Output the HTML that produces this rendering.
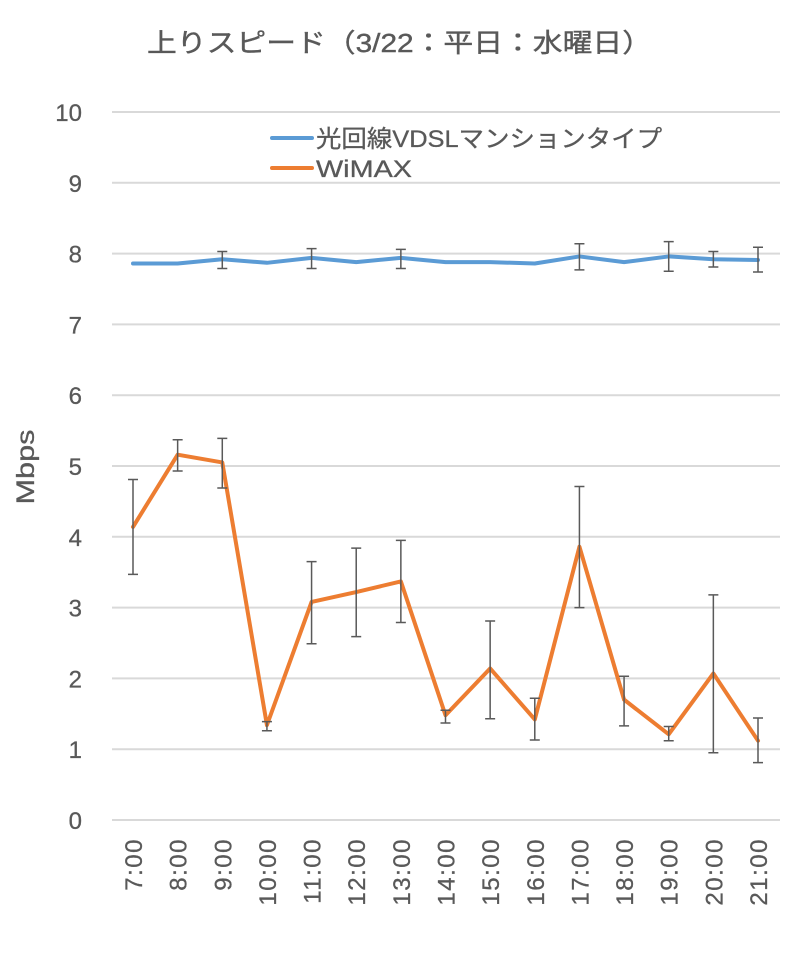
<!DOCTYPE html>
<html><head><meta charset="utf-8"><style>
html,body{margin:0;padding:0;background:#fff;}
svg{display:block;font-family:"Liberation Sans","Noto Sans CJK JP",sans-serif;}
</style></head><body>
<svg id="chart" width="804" height="954" viewBox="0 0 804 954" xmlns="http://www.w3.org/2000/svg">
<rect x="0" y="0" width="804" height="954" fill="#fff"/>
<text x="147" y="52" textLength="505" lengthAdjust="spacingAndGlyphs" font-size="26" fill="#595959" stroke="#595959" stroke-width="0.4">上りスピード（3/22：平日：水曜日）</text>
<text transform="translate(34,467) rotate(-90)" text-anchor="middle" textLength="75" lengthAdjust="spacingAndGlyphs" font-size="25" fill="#595959" stroke="#595959" stroke-width="0.3">Mbps</text>
<g id="grid"></g>
<g id="ylabels"></g>
<g id="xlabels"></g>
<g id="series"></g>
<g>
<line x1="272" y1="138" x2="312" y2="138" stroke="#5B9BD5" stroke-width="4" stroke-linecap="round"/>
<text x="316" y="147" textLength="346" lengthAdjust="spacingAndGlyphs" font-size="24" fill="#595959" stroke="#595959" stroke-width="0.3">光回線VDSLマンションタイプ</text>
<line x1="272" y1="168" x2="312" y2="168" stroke="#ED7D31" stroke-width="4" stroke-linecap="round"/>
<text x="316" y="177" textLength="96" lengthAdjust="spacingAndGlyphs" font-size="24" fill="#595959" stroke="#595959" stroke-width="0.3">WiMAX</text>
</g>
</svg>
<script>
const categories = ["7:00","8:00","9:00","10:00","11:00","12:00","13:00","14:00","15:00","16:00","17:00","18:00","19:00","20:00","21:00"];
const yTicks = [0,1,2,3,4,5,6,7,8,9,10];
const vdslValues = [7.86,7.86,7.92,7.87,7.94,7.88,7.94,7.88,7.88,7.86,7.96,7.88,7.96,7.92,7.91];
const vdslHigh = [null,null,8.03,null,8.07,null,8.06,null,null,null,8.14,null,8.17,8.03,8.09];
const vdslLow  = [null,null,7.79,null,7.79,null,7.79,null,null,null,7.77,null,7.75,7.81,7.74];
const wimaxValues = [4.14,5.16,5.05,1.34,3.08,3.22,3.37,1.48,2.14,1.42,3.86,1.70,1.21,2.07,1.12];
const wimaxHigh = [4.81,5.37,5.39,1.39,3.65,3.84,3.95,1.55,2.81,1.72,4.71,2.03,1.32,3.18,1.44];
const wimaxLow  = [3.47,4.93,4.69,1.26,2.49,2.59,2.79,1.37,1.43,1.13,3.00,1.33,1.12,0.95,0.81];

const NS = "http://www.w3.org/2000/svg";
const plotL = 112, plotR = 780, y0 = 820, yTop = 112;
function xScale(i){ return 133 + i * (758 - 133) / (categories.length - 1); }
function yScale(v){ return y0 - (v / 10) * (y0 - yTop); }
function mk(tag, attrs, parent){ const e = document.createElementNS(NS, tag); for (const k in attrs) e.setAttribute(k, attrs[k]); parent.appendChild(e); return e; }

const grid = document.getElementById('grid');
const yl = document.getElementById('ylabels');
yTicks.forEach(t => {
  const g = mk('line', {x1: plotL, x2: plotR, y1: yScale(t), y2: yScale(t), stroke: '#d9d9d9', 'stroke-width': 2}, grid);
  
  
  const l = mk('text', {x: 82, y: yScale(t) + 9, 'text-anchor': 'end', 'font-size': 24, fill: '#595959', stroke: '#595959', 'stroke-width': 0.3}, yl);
  l.textContent = t;
  
  
});
const xl = document.getElementById('xlabels');
categories.forEach((c, i) => {
  const x = xScale(i);
  const t = mk('text', {transform: 'translate(' + (x + 9) + ',838) rotate(-90)', 'text-anchor': 'end', 'font-size': 24, 'letter-spacing': 1.5, fill: '#595959', stroke: '#595959', 'stroke-width': 0.3}, xl);
  t.textContent = c;
  
  
});
const ser = document.getElementById('series');
function drawSeries(vals, hi, lo, color, name){
  const g = mk('g', {}, ser);
  
  
  const pts = vals.map((v, i) => xScale(i) + ',' + yScale(v)).join(' ');
  const pl = mk('polyline', {points: pts, fill: 'none', stroke: color, 'stroke-width': 4, 'stroke-linejoin': 'round', 'stroke-linecap': 'round'}, g);
  
  
  vals.forEach((v, i) => {
    if (hi[i] == null) return;
    const x = xScale(i), a = yScale(hi[i]), b = yScale(lo[i]);
    const eb = mk('path', {d: 'M' + x + ' ' + a + 'V' + b + 'M' + (x - 5) + ' ' + a + 'H' + (x + 5) + 'M' + (x - 5) + ' ' + b + 'H' + (x + 5), stroke: '#595959', 'stroke-width': 1.5, fill: 'none'}, g);
    
    
  });
}
drawSeries(vdslValues, vdslHigh, vdslLow, '#5B9BD5', 'vdsl');
drawSeries(wimaxValues, wimaxHigh, wimaxLow, '#ED7D31', 'wimax');
</script>
</body></html>
